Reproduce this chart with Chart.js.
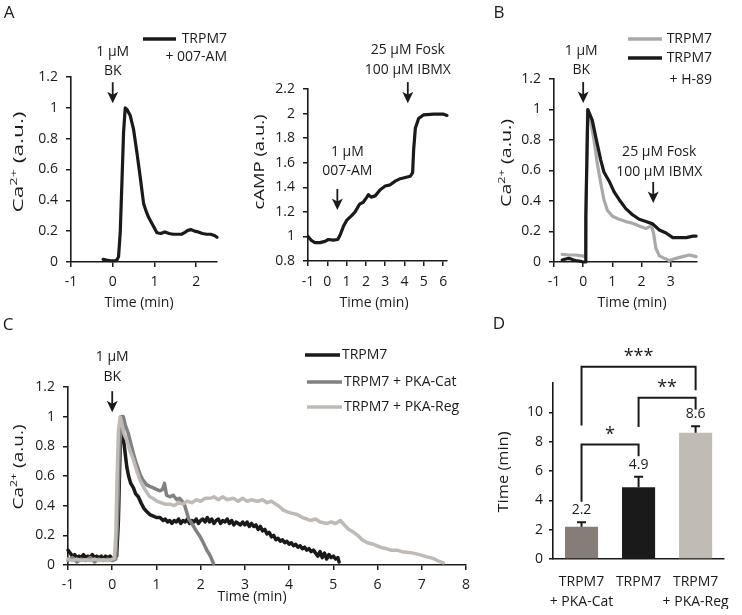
<!DOCTYPE html>
<html><head><meta charset="utf-8">
<script src="https://cdn.jsdelivr.net/npm/chart.js@4.4.0/dist/chart.umd.min.js"></script>
<style>
html,body{margin:0;padding:0;background:#fff;}
body{width:742px;height:615px;overflow:hidden;position:relative;}
canvas{position:absolute;left:0;top:0;}
</style></head>
<body>
<canvas id="cA1" width="742" height="615"></canvas>
<canvas id="cA2" width="742" height="615"></canvas>
<canvas id="cB" width="742" height="615"></canvas>
<canvas id="cC" width="742" height="615"></canvas>
<canvas id="cD" width="742" height="615"></canvas>
<script>
// ---------------- DATA ----------------
// Panel A (left): Ca2+ trace, TRPM7 + 007-AM   [time (min), Ca2+ (a.u.)]
const a1TRPM7_007 = [[-0.23,0.017],[-0.15,0.012],[-0.05,0.008],[0.05,0.008],[0.1,0.012],[0.14,0.035],[0.18,0.19],[0.22,0.51],[0.26,0.84],[0.3,1.0],[0.34,0.99],[0.42,0.95],[0.5,0.86],[0.58,0.71],[0.66,0.55],[0.74,0.38],[0.8,0.33],[0.86,0.29],[0.92,0.26],[0.98,0.23],[1.06,0.19],[1.15,0.185],[1.25,0.195],[1.35,0.185],[1.45,0.18],[1.55,0.18],[1.65,0.18],[1.72,0.19],[1.8,0.205],[1.88,0.21],[1.96,0.2],[2.05,0.195],[2.15,0.185],[2.25,0.18],[2.35,0.18],[2.45,0.17],[2.5,0.16]];
const a1XTicks = [-1,0,1,2];
const a1YTicks = [0,0.2,0.4,0.6,0.8,1,1.2];

// Panel A (right): cAMP trace  [time (min), cAMP (a.u.)]
const a2cAMP = [[-1,1.0],[-0.81,0.965],[-0.64,0.95],[-0.38,0.95],[-0.12,0.96],[0.05,0.975],[0.31,0.97],[0.54,0.975],[0.66,1.01],[0.83,1.08],[1.0,1.13],[1.26,1.17],[1.44,1.2],[1.66,1.26],[1.87,1.28],[2.05,1.32],[2.13,1.34],[2.27,1.32],[2.48,1.33],[2.74,1.38],[3.0,1.41],[3.26,1.42],[3.52,1.45],[3.78,1.47],[4.04,1.48],[4.3,1.49],[4.42,1.52],[4.47,1.7],[4.56,1.88],[4.73,1.96],[4.99,1.99],[5.51,1.995],[6.03,1.995],[6.2,1.985]];
const a2XTicks = [-1,0,1,2,3,4,5,6];
const a2YTicks = [0.8,1,1.2,1.4,1.6,1.8,2,2.2];

// Panel B: TRPM7 vs TRPM7 + H-89
const bTRPM7 = [[-0.72,0.05],[-0.49,0.046],[-0.26,0.046],[-0.03,0.04],[0.08,0.035],[0.11,0.5],[0.15,1.0],[0.25,0.93],[0.37,0.8],[0.48,0.65],[0.6,0.52],[0.71,0.41],[0.83,0.34],[1.0,0.3],[1.23,0.28],[1.46,0.265],[1.69,0.254],[1.92,0.236],[2.15,0.22],[2.26,0.23],[2.34,0.236],[2.41,0.19],[2.49,0.09],[2.61,0.04],[2.78,0.024],[2.95,0.01],[3.18,0.024],[3.41,0.035],[3.64,0.046],[3.87,0.035]];
const bTRPM7_H89 = [[-0.72,0.013],[-0.6,0.02],[-0.49,0.024],[-0.35,0.015],[-0.26,0.01],[-0.1,0.005],[0.0,0.0],[0.08,0.0],[0.09,0.3],[0.16,1.0],[0.31,0.93],[0.43,0.82],[0.6,0.67],[0.71,0.59],[0.89,0.53],[1.06,0.46],[1.23,0.41],[1.46,0.35],[1.69,0.31],[1.92,0.28],[2.15,0.265],[2.38,0.25],[2.61,0.21],[2.84,0.19],[3.07,0.16],[3.3,0.16],[3.53,0.16],[3.76,0.17],[3.87,0.17]];
const bXTicks = [-1,0,1,2,3];
const bYTicks = [0,0.2,0.4,0.6,0.8,1,1.2];

// Panel C: TRPM7, TRPM7 + PKA-Cat, TRPM7 + PKA-Reg
const cTRPM7 = [[-1,0.1],[-0.95,0.08],[-0.9,0.06],[-0.85,0.07],[-0.8,0.05],[-0.75,0.06],[-0.7,0.05],[-0.65,0.07],[-0.6,0.05],[-0.55,0.06],[-0.5,0.05],[-0.45,0.07],[-0.4,0.05],[-0.35,0.06],[-0.3,0.05],[-0.25,0.06],[-0.2,0.04],[-0.15,0.06],[-0.1,0.05],[-0.05,0.06],[0,0.04],[0.05,0.05],[0.1,0.06],[0.14,0.3],[0.18,0.8],[0.22,1.0],[0.25,0.86],[0.29,0.76],[0.33,0.66],[0.37,0.6],[0.42,0.55],[0.48,0.52],[0.53,0.48],[0.59,0.46],[0.65,0.42],[0.72,0.38],[0.78,0.36],[0.85,0.34],[0.93,0.33],[1.0,0.32],[1.08,0.32],[1.15,0.3],
 [1.2,0.31],[1.25,0.29],[1.3,0.3],[1.35,0.28],[1.4,0.3],[1.45,0.29],[1.5,0.31],[1.55,0.28],[1.6,0.3],[1.65,0.29],[1.7,0.31],[1.75,0.28],[1.8,0.3],[1.85,0.29],[1.9,0.31],[1.95,0.28],[2.0,0.3],[2.05,0.31],[2.1,0.29],[2.15,0.32],[2.2,0.29],[2.25,0.31],[2.3,0.28],[2.35,0.3],[2.4,0.31],[2.45,0.28],[2.5,0.3],[2.55,0.29],[2.6,0.31],[2.65,0.28],[2.7,0.3],[2.75,0.27],[2.8,0.29],[2.85,0.28],[2.9,0.27],[2.95,0.29],[3.0,0.27],[3.05,0.29],[3.1,0.26],[3.15,0.28],[3.2,0.26],[3.25,0.27],[3.3,0.24],[3.35,0.26],[3.4,0.23],[3.45,0.24],[3.5,0.21],[3.55,0.22],[3.6,0.19],[3.65,0.2],[3.7,0.17],[3.75,0.18],[3.8,0.16],[3.85,0.17],[3.9,0.15],[3.95,0.16],[4.0,0.14],[4.05,0.15],[4.1,0.13],[4.15,0.14],[4.2,0.12],[4.25,0.13],[4.3,0.11],[4.35,0.12],[4.4,0.1],[4.45,0.11],[4.5,0.09],[4.55,0.1],[4.6,0.08],[4.65,0.06],[4.7,0.09],[4.75,0.05],[4.8,0.08],[4.85,0.04],[4.9,0.07],[4.95,0.05],[5.0,0.06],[5.05,0.04],[5.1,0.05],[5.13,0.02]];
const cTRPM7_Cat = [[-1,0.03],[-0.9,0.05],[-0.8,0.02],[-0.7,0.04],[-0.6,0.03],[-0.5,0.05],[-0.4,0.02],[-0.3,0.04],[-0.2,0.03],[-0.1,0.04],[0,0.03],[0.08,0.04],[0.12,0.3],[0.16,0.75],[0.2,0.95],[0.25,1.0],[0.3,0.94],[0.36,0.89],[0.42,0.82],[0.48,0.75],[0.55,0.68],[0.63,0.61],[0.7,0.57],[0.78,0.54],[0.85,0.53],[0.93,0.52],[1.0,0.51],[1.08,0.5],[1.14,0.51],[1.18,0.55],[1.23,0.47],[1.3,0.46],[1.38,0.47],[1.46,0.44],[1.52,0.45],[1.58,0.43],[1.63,0.41],[1.68,0.36],[1.73,0.31],[1.78,0.29],[1.84,0.26],[1.9,0.23],[1.99,0.19],[2.06,0.15],[2.14,0.1],[2.22,0.06],[2.29,0.01]];
const cTRPM7_Reg = [[-1,0.04],[-0.9,0.03],[-0.8,0.04],[-0.7,0.03],[-0.6,0.035],[-0.5,0.03],[-0.4,0.04],[-0.3,0.03],[-0.2,0.035],[-0.1,0.03],[0,0.04],[0.05,0.045],[0.08,0.2],[0.11,0.6],[0.14,0.9],[0.18,1.0],[0.22,0.95],[0.27,0.88],[0.33,0.84],[0.4,0.77],[0.48,0.71],[0.55,0.64],[0.63,0.57],[0.7,0.53],[0.78,0.49],[0.85,0.46],[0.92,0.45],[1.01,0.43],[1.1,0.42],[1.2,0.41],[1.31,0.41],[1.4,0.4],[1.5,0.42],[1.6,0.41],[1.69,0.43],[1.8,0.42],[1.9,0.44],[2.0,0.43],[2.1,0.45],[2.22,0.45],[2.3,0.46],[2.4,0.44],[2.5,0.46],[2.6,0.44],[2.74,0.45],[2.85,0.43],[2.95,0.45],[3.05,0.43],[3.15,0.44],[3.28,0.43],[3.4,0.44],[3.5,0.42],[3.6,0.43],[3.7,0.41],[3.8,0.39],[3.87,0.37],[3.95,0.36],[4.05,0.35],[4.18,0.34],[4.3,0.32],[4.4,0.31],[4.48,0.3],[4.6,0.31],[4.7,0.29],[4.86,0.28],[4.95,0.29],[5.05,0.28],[5.16,0.3],[5.25,0.27],[5.35,0.24],[5.46,0.22],[5.55,0.2],[5.65,0.17],[5.77,0.15],[5.9,0.14],[6.06,0.12],[6.2,0.11],[6.3,0.1],[6.44,0.1],[6.55,0.09],[6.7,0.085],[6.81,0.08],[6.95,0.07],[7.12,0.055],[7.25,0.045],[7.35,0.03],[7.49,0.015]];
const cXTicks = [-1,0,1,2,3,4,5,6,7,8];
const cYTicks = [0,0.2,0.4,0.6,0.8,1,1.2];

// Panel D: bar chart
const dCategories = [['TRPM7','+ PKA-Cat'], 'TRPM7', ['TRPM7','+ PKA-Reg']];
const dValues = [2.2, 4.9, 8.6];
const dErrors = [0.3, 0.7, 0.45];
const dYTicks = [0,2,4,6,8,10];

// ---------------- STYLE / HELPERS ----------------
const INK = '#1a1a1a';
const FF = "'Open Sans', 'Noto Sans', sans-serif";
Chart.defaults.font.family = FF;
Chart.defaults.font.size = 14;
Chart.defaults.color = INK;

const pts = arr => arr.map(p => ({x: p[0], y: p[1]}));

function axis(o) {
  const s = {
    type: o.type || 'linear',
    afterFit: sc => { if (o.horizontal) sc.height = o.size; else sc.width = o.size; },
    ticks: { color: INK, padding: o.pad, font: {size: 14, lineHeight: o.lh || 1.2}, maxRotation: 0, minRotation: 0, autoSkip: false },
    grid: { display: true, drawOnChartArea: false, drawTicks: o.tickLen > 0, tickLength: o.tickLen || 0, color: INK, lineWidth: 1.5 },
    border: { display: true, color: INK, width: 1.6 },
    title: { display: false }
  };
  if (o.min !== undefined) { s.min = o.min; s.max = o.max; }
  if (o.ticksArr) {
    s.afterBuildTicks = sc => { sc.ticks = o.ticksArr.map(v => ({value: v})); };
    s.ticks.callback = v => String(v);
  }
  return s;
}

function drawYTitle(ctx, t) {
  const fs = t.size || 14;
  const fontOf = p => (p[1] ? Math.round(fs * 0.66) : fs) + 'px ' + FF;
  const widths = t.parts.map(p => { ctx.font = fontOf(p); return ctx.measureText(p[0]).width; });
  const total = widths.reduce((a, b) => a + b, 0);
  ctx.save();
  ctx.translate(t.cx, t.cy);
  ctx.rotate(-Math.PI / 2);
  ctx.scale(t.len / total, 1);
  ctx.textAlign = 'left'; ctx.textBaseline = 'middle'; ctx.fillStyle = INK;
  let x = -total / 2;
  t.parts.forEach((p, i) => { ctx.font = fontOf(p); ctx.fillText(p[0], x, p[1] ? -fs * 0.32 : 0); x += widths[i]; });
  ctx.restore();
}

const extras = {
  id: 'extras',
  afterDraw(chart, args, o) {
    const ctx = chart.ctx, xs = chart.scales.x, ys = chart.scales.y;
    ctx.save();
    ctx.fillStyle = INK; ctx.strokeStyle = INK;
    ctx.textAlign = 'center'; ctx.textBaseline = 'middle';
    if (o.letter) { ctx.font = '17px ' + FF; ctx.fillText(o.letter[0], o.letter[1], o.letter[2]); }
    if (o.xTitle) { ctx.font = '14px ' + FF; ctx.fillText(o.xTitle[0], o.xTitle[1], o.xTitle[2]); }
    if (o.yTitle) drawYTitle(ctx, o.yTitle);
    (o.arrows || []).forEach(a => {
      const px = xs.getPixelForValue(a.x), py = ys.getPixelForValue(a.tip);
      ctx.lineWidth = 1.8;
      ctx.beginPath(); ctx.moveTo(px, py - 21); ctx.lineTo(px, py - 7); ctx.stroke();
      ctx.beginPath(); ctx.moveTo(px, py); ctx.lineTo(px - 5.5, py - 11.5); ctx.lineTo(px, py - 8.5); ctx.lineTo(px + 5.5, py - 11.5); ctx.closePath(); ctx.fill();
      ctx.font = '14px ' + FF; ctx.textAlign = 'center';
      a.lines.forEach((t, i) => ctx.fillText(t, px + (a.dx || 0), py + a.dy[i]));
    });
    (o.legend || []).forEach(l => {
      const ds = chart.data.datasets[l.ds];
      ctx.strokeStyle = ds.borderColor; ctx.lineWidth = 3.5; ctx.lineCap = 'butt';
      ctx.beginPath(); ctx.moveTo(l.x1, l.y); ctx.lineTo(l.x2, l.y); ctx.stroke();
      ctx.fillStyle = INK; ctx.font = '14px ' + FF; ctx.textAlign = l.align;
      l.lines.forEach(t => ctx.fillText(t[0], t[1], t[2]));
    });
    ctx.restore();
  }
};

function frame(area, yW, xH) {
  return { padding: { left: area.l - yW, top: area.t, right: 742 - area.r, bottom: 615 - area.b - xH } };
}
function lineDs(label, data, color, w) {
  return { label, data: pts(data), borderColor: color, borderWidth: w || 3, pointRadius: 0, tension: 0,
           fill: false, borderJoinStyle: 'round', borderCapStyle: 'round', clip: false };
}
const base = { responsive: false, animation: false, events: [], maintainAspectRatio: false };
const noLegend = { legend: { display: false }, tooltip: { enabled: false } };

// ---------------- PANEL A (left) ----------------
{
  const area = {l: 71, t: 77, r: 217, b: 262};
  const yW = 60, xH = 45;
  new Chart(document.getElementById('cA1'), {
    type: 'line',
    data: { datasets: [ lineDs('TRPM7 + 007-AM', a1TRPM7_007, INK, 3.2) ] },
    options: Object.assign({}, base, {
      layout: frame(area, yW, xH),
      scales: {
        x: axis({min: -1, max: 2.5, ticksArr: a1XTicks, horizontal: true, size: xH, tickLen: 5, pad: 7}),
        y: axis({min: 0, max: 1.2, ticksArr: a1YTicks, size: yW, tickLen: 5, pad: 8})
      },
      plugins: Object.assign({}, noLegend, { extras: {
        letter: ['A', 9, 13],
        xTitle: ['Time (min)', 139, 303],
        yTitle: { parts: [['Ca', 0], ['2+', 1], [' (a.u.)', 0]], cx: 19, cy: 162, len: 101, size: 14 },
        arrows: [{ x: 0, tip: 1.03, lines: ['1 μM', 'BK'], dy: [-51, -32] }],
        legend: [{ ds: 0, x1: 143, x2: 176, y: 39, align: 'right', lines: [['TRPM7', 227, 39], ['+ 007-AM', 227, 57]] }]
      } })
    }),
    plugins: [extras]
  });
}

// ---------------- PANEL A (right) ----------------
{
  const area = {l: 308, t: 89, r: 447, b: 261};
  const yW = 56, xH = 45;
  new Chart(document.getElementById('cA2'), {
    type: 'line',
    data: { datasets: [ lineDs('cAMP', a2cAMP, INK, 3.2) ] },
    options: Object.assign({}, base, {
      layout: frame(area, yW, xH),
      scales: {
        x: axis({min: -1, max: 6.2, ticksArr: a2XTicks, horizontal: true, size: xH, tickLen: 5, pad: 8}),
        y: axis({min: 0.8, max: 2.2, ticksArr: a2YTicks, size: yW, tickLen: 5, pad: 8})
      },
      plugins: Object.assign({}, noLegend, { extras: {
        xTitle: ['Time (min)', 374, 303],
        yTitle: { parts: [['cAMP (a.u.)', 0]], cx: 260, cy: 162, len: 95, size: 14 },
        arrows: [
          { x: 4.17, tip: 2.085, lines: ['25 μM Fosk', '100 μM IBMX'], dy: [-53, -33] },
          { x: 0.52, tip: 1.215, lines: ['1 μM', '007-AM'], dy: [-58, -39], dx: 10 }
        ]
      } })
    }),
    plugins: [extras]
  });
}

// ---------------- PANEL B ----------------
{
  const area = {l: 554, t: 79, r: 697, b: 262};
  const yW = 55, xH = 45;
  new Chart(document.getElementById('cB'), {
    type: 'line',
    data: { datasets: [ lineDs('TRPM7 + H-89', bTRPM7_H89, INK, 3.2), lineDs('TRPM7', bTRPM7, '#a9a9a9', 3.2) ] },
    options: Object.assign({}, base, {
      layout: frame(area, yW, xH),
      scales: {
        x: axis({min: -1, max: 3.9, ticksArr: bXTicks, horizontal: true, size: xH, tickLen: 5, pad: 7}),
        y: axis({min: 0, max: 1.2, ticksArr: bYTicks, size: yW, tickLen: 5, pad: 8})
      },
      plugins: Object.assign({}, noLegend, { extras: {
        letter: ['B', 499, 13],
        xTitle: ['Time (min)', 632, 303],
        yTitle: { parts: [['Ca', 0], ['2+', 1], [' (a.u.)', 0]], cx: 507, cy: 163, len: 88, size: 14 },
        arrows: [
          { x: 0, tip: 1.043, lines: ['1 μM', 'BK'], dy: [-52, -33], dx: -2 },
          { x: 2.4, tip: 0.387, lines: ['25 μM Fosk', '100 μM IBMX'], dy: [-51, -31], dx: 6 }
        ],
        legend: [
          { ds: 1, x1: 628, x2: 662, y: 39, align: 'right', lines: [['TRPM7', 712, 39]] },
          { ds: 0, x1: 628, x2: 662, y: 58, align: 'right', lines: [['TRPM7', 712, 58], ['+ H-89', 712, 80]] }
        ]
      } })
    }),
    plugins: [extras]
  });
}

// ---------------- PANEL C ----------------
{
  const area = {l: 68, t: 387, r: 466, b: 565};
  const yW = 57, xH = 40;
  new Chart(document.getElementById('cC'), {
    type: 'line',
    data: { datasets: [
      lineDs('TRPM7 + PKA-Reg', cTRPM7_Reg, '#bfbab6', 3.5),
      lineDs('TRPM7 + PKA-Cat', cTRPM7_Cat, '#818181', 3.5),
      lineDs('TRPM7', cTRPM7, INK, 3.5)
    ] },
    options: Object.assign({}, base, {
      layout: frame(area, yW, xH),
      scales: {
        x: axis({min: -1, max: 8, ticksArr: cXTicks, horizontal: true, size: xH, tickLen: 5, pad: 7}),
        y: axis({min: 0, max: 1.2, ticksArr: cYTicks, size: yW, tickLen: 5, pad: 8})
      },
      plugins: Object.assign({}, noLegend, { extras: {
        letter: ['C', 8, 325],
        xTitle: ['Time (min)', 252, 597],
        yTitle: { parts: [['Ca', 0], ['2+', 1], [' (a.u.)', 0]], cx: 19, cy: 467, len: 85, size: 14 },
        arrows: [{ x: 0, tip: 1.03, lines: ['1 μM', 'BK'], dy: [-55, -35] }],
        legend: [
          { ds: 2, x1: 305, x2: 340, y: 355, align: 'left', lines: [['TRPM7', 342, 355]] },
          { ds: 1, x1: 307, x2: 342, y: 382, align: 'left', lines: [['TRPM7 + PKA-Cat', 344, 382]] },
          { ds: 0, x1: 307, x2: 342, y: 407, align: 'left', lines: [['TRPM7 + PKA-Reg', 344, 407]] }
        ]
      } })
    }),
    plugins: [extras]
  });
}

// ---------------- PANEL D ----------------
const dExtras = {
  id: 'dExtras',
  afterDatasetsDraw(chart, args, o) {
    const ctx = chart.ctx, ys = chart.scales.y, xs = chart.scales.x;
    const meta = chart.getDatasetMeta(0);
    ctx.save();
    ctx.strokeStyle = INK; ctx.fillStyle = INK; ctx.lineWidth = 2;
    ctx.textAlign = 'center'; ctx.textBaseline = 'middle';
    meta.data.forEach((bar, i) => {
      const top = ys.getPixelForValue(dValues[i] + dErrors[i]);
      ctx.beginPath();
      ctx.moveTo(bar.x, bar.y); ctx.lineTo(bar.x, top);
      ctx.moveTo(bar.x - 4.5, top); ctx.lineTo(bar.x + 4.5, top);
      ctx.stroke();
      ctx.font = '14px ' + FF;
      ctx.fillText(dValues[i].toFixed(1), bar.x, top - 12);
    });
    o.brackets.forEach(b => {
      const x1 = xs.getPixelForValue(b.from), x2 = xs.getPixelForValue(b.to);
      const yA = ys.getPixelForValue(b.y1), yT = ys.getPixelForValue(b.top), yB = ys.getPixelForValue(b.y2);
      ctx.beginPath(); ctx.moveTo(x1, yA); ctx.lineTo(x1, yT); ctx.lineTo(x2, yT); ctx.lineTo(x2, yB); ctx.stroke();
      ctx.font = '18px ' + FF;
      ctx.fillText(b.label, (x1 + x2) / 2, yT - 9.5);
    });
    ctx.restore();
  }
};
{
  const area = {l: 553, t: 383, r: 740, b: 559};
  const yW = 57, xH = 50;
  new Chart(document.getElementById('cD'), {
    type: 'bar',
    data: { labels: dCategories, datasets: [{
      label: 'Time (min)', data: dValues,
      backgroundColor: ['#857d78', '#1a1a1a', '#c1bbb6'], borderWidth: 0,
      barPercentage: 0.58, categoryPercentage: 1.0
    }] },
    options: Object.assign({}, base, {
      layout: frame(area, yW, xH),
      scales: {
        x: axis({type: 'category', horizontal: true, size: xH, tickLen: 0, pad: 13, lh: 1.42}),
        y: axis({min: 0, max: 12, ticksArr: dYTicks, size: yW, tickLen: 4, pad: 6})
      },
      plugins: Object.assign({}, noLegend, {
        extras: {
          letter: ['D', 499, 324],
          yTitle: { parts: [['Time (min)', 0]], cx: 504, cy: 472, len: 81, size: 14 }
        },
        dExtras: { brackets: [
          { from: 0, to: 1, y1: 3.9, top: 7.8, y2: 7.0, label: '*' },
          { from: 1, to: 2, y1: 9.0, top: 11.0, y2: 10.2, label: '**' },
          { from: 0, to: 2, y1: 9.1, top: 13.1, y2: 11.5, label: '***' }
        ] }
      })
    }),
    plugins: [extras, dExtras]
  });
}
</script>
</body></html>
